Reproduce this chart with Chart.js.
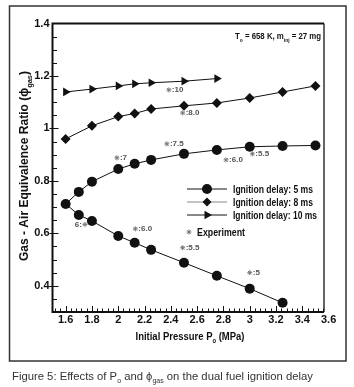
<!DOCTYPE html>
<html>
<head>
<meta charset="utf-8">
<script src="https://cdn.jsdelivr.net/npm/chart.js@4.4.0/dist/chart.umd.min.js"></script>
<style>
  body { margin: 0; background: #fff; }
</style>
</head>
<body>
<canvas id="chart" width="354" height="387"></canvas>
<script>
// ignition delay 5 ms: one curve, folds back at 1.6 MPa (upper branch then lower branch)
const press5 = [3.5, 3.25, 3.0, 2.75, 2.5, 2.25, 2.125, 2.0, 1.8, 1.7, 1.6, 1.7, 1.8, 2.0, 2.125, 2.25, 2.5, 2.75, 3.0, 3.25];
const phi5 = [0.935, 0.933, 0.93, 0.918, 0.903, 0.88, 0.865, 0.845, 0.797, 0.758, 0.712, 0.67, 0.647, 0.59, 0.564, 0.537, 0.488, 0.438, 0.389, 0.335];

// ignition delay 8 ms
const press8 = [1.6, 1.8, 2.0, 2.125, 2.25, 2.5, 2.75, 3.0, 3.25, 3.5];
const phi8 = [0.96, 1.01, 1.045, 1.057, 1.074, 1.086, 1.097, 1.116, 1.139, 1.162];

// ignition delay 10 ms
const press10 = [1.6, 1.8, 2.0, 2.125, 2.25, 2.5, 2.75];
const phi10 = [1.139, 1.15, 1.162, 1.17, 1.174, 1.18, 1.19];

// experiment points and their delay labels
const expPress = [2.385, 2.49, 2.37, 1.99, 2.82, 3.02, 1.747, 2.13, 2.49, 3.0];
const expPhi = [1.147, 1.059, 0.941, 0.888, 0.88, 0.903, 0.634, 0.617, 0.545, 0.45];
const expLabels = [':10', ':8.0', ':7.5', ':7', ':6.0', ':5.5', '6:', ':6.0', ':5.5', ':5'];

const xTicks = [1.6, 1.8, 2, 2.2, 2.4, 2.6, 2.8, 3, 3.2, 3.4, 3.6];
const yTicks = [0.4, 0.6, 0.8, 1, 1.2, 1.4];

const legendLabels = ['Ignition delay: 5 ms', 'Ignition delay: 8 ms', 'Ignition delay: 10 ms'];

const FONT = '"Liberation Sans", Arial, sans-serif';

function pts(xs, ys) {
  return xs.map((x, i) => ({ x: x, y: ys[i] }));
}

// draw text made of pieces [text, isSub], squeezed to a given width
function drawParts(ctx, parts, x, y, size, bold, width, align) {
  ctx.save();
  const f = s => (bold ? 'bold ' : '') + s + 'px ' + FONT;
  let w = 0;
  parts.forEach(p => {
    ctx.font = f(p[1] ? size * 0.62 : size);
    w += ctx.measureText(p[0]).width;
  });
  const sx = width ? width / w : 1;
  let x0 = x;
  if (align === 'right') x0 = x - w * sx;
  if (align === 'center') x0 = x - w * sx / 2;
  ctx.translate(x0, y);
  ctx.scale(sx, 1);
  ctx.textAlign = 'left';
  ctx.textBaseline = 'alphabetic';
  let cx = 0;
  parts.forEach(p => {
    ctx.font = f(p[1] ? size * 0.62 : size);
    ctx.fillText(p[0], cx, p[1] ? size * 0.3 : 0);
    cx += ctx.measureText(p[0]).width;
  });
  ctx.restore();
}

function star(ctx, x, y, r) {
  ctx.beginPath();
  for (let a = 0; a < 4; a++) {
    const t = a * Math.PI / 4;
    ctx.moveTo(x - r * Math.cos(t), y - r * Math.sin(t));
    ctx.lineTo(x + r * Math.cos(t), y + r * Math.sin(t));
  }
  ctx.stroke();
}

const decor = {
  id: 'decor',
  beforeDraw(chart) {
    const ctx = chart.ctx;
    ctx.save();
    ctx.fillStyle = '#fff';
    ctx.fillRect(0, 0, chart.width, chart.height);
    ctx.restore();
  },
  afterDatasetsDraw(chart) {
    const ctx = chart.ctx;
    const xs = chart.scales.x, ys = chart.scales.y;
    // experiment labels
    ctx.save();
    ctx.fillStyle = '#555';
    ctx.font = 'bold 8px ' + FONT;
    ctx.textBaseline = 'middle';
    expLabels.forEach((lab, i) => {
      const px = xs.getPixelForValue(expPress[i]);
      const py = ys.getPixelForValue(expPhi[i]);
      if (lab.endsWith(':')) {
        ctx.textAlign = 'right';
        ctx.fillText(lab, px - 3, py);
      } else {
        ctx.textAlign = 'left';
        ctx.fillText(lab, px + 3, py);
      }
    });
    ctx.restore();
  },
  afterDraw(chart) {
    const ctx = chart.ctx;
    const a = chart.chartArea;
    const xs = chart.scales.x, ys = chart.scales.y;
    ctx.save();
    ctx.strokeStyle = '#111';
    ctx.fillStyle = '#111';

    // tick marks, pointing inward
    ctx.lineWidth = 1;
    ctx.beginPath();
    for (let v = 1.52; v < 3.565; v += 0.04) {
      const px = Math.round(xs.getPixelForValue(v)) + 0.5;
      const major = xTicks.some(t => Math.abs(t - v) < 0.005);
      ctx.moveTo(px, a.bottom);
      ctx.lineTo(px, a.bottom - (major ? 6 : 3.5));
    }
    for (let v = 0.35; v < 1.4; v += 0.05) {
      const py = Math.round(ys.getPixelForValue(v)) + 0.5;
      const major = yTicks.some(t => Math.abs(t - v) < 0.005);
      ctx.moveTo(major ? a.left - 3 : a.left, py);
      ctx.lineTo(a.left + (major ? 6 : 4.5), py);
    }
    ctx.stroke();

    // plot box
    ctx.lineWidth = 2;
    ctx.beginPath();
    ctx.moveTo(a.right, a.top);
    ctx.lineTo(a.left, a.top);
    ctx.lineTo(a.left, a.bottom);
    ctx.lineTo(a.right, a.bottom);
    ctx.stroke();
    ctx.lineWidth = 1.3;
    ctx.beginPath();
    ctx.moveTo(a.right, a.top);
    ctx.lineTo(a.right, a.bottom);
    ctx.stroke();

    // outer frame
    ctx.strokeStyle = '#333';
    ctx.lineWidth = 1.5;
    ctx.strokeRect(9.5, 6, 336.5, 355);

    // axis titles
    ctx.fillStyle = '#111';
    drawParts(ctx, [['Initial Pressure P', 0], ['o', 1], [' (MPa)', 0]], 190, 340, 11.5, true, 109, 'center');
    ctx.save();
    ctx.translate(28, 166);
    ctx.rotate(-Math.PI / 2);
    drawParts(ctx, [['Gas - Air Equivalence Ratio (\u03d5', 0], ['gas', 1], [')', 0]], 0, 0, 12, true, 190, 'center');
    ctx.restore();

    // conditions note
    drawParts(ctx, [['T', 0], ['o', 1], [' = 658 K, m', 0], ['inj', 1], [' = 27 mg', 0]], 321, 39, 9.5, true, 86, 'right');

    // legend
    const lx0 = 187, lx1 = 227, mx = 207, tx = 233;
    const rows = [189, 202, 215];
    rows.forEach((ry, i) => {
      ctx.strokeStyle = i === 1 ? '#888' : '#111';
      ctx.lineWidth = 1;
      ctx.beginPath();
      ctx.moveTo(lx0, ry);
      ctx.lineTo(lx1, ry);
      ctx.stroke();
      ctx.fillStyle = '#111';
      ctx.beginPath();
      if (i === 0) {
        ctx.arc(mx, ry, 5, 0, Math.PI * 2);
      } else if (i === 1) {
        ctx.moveTo(mx, ry - 4.5);
        ctx.lineTo(mx + 4.5, ry);
        ctx.lineTo(mx, ry + 4.5);
        ctx.lineTo(mx - 4.5, ry);
        ctx.closePath();
      } else {
        ctx.moveTo(mx + 5, ry);
        ctx.lineTo(mx - 2.5, ry - 4.3);
        ctx.lineTo(mx - 2.5, ry + 4.3);
        ctx.closePath();
      }
      ctx.fill();
      drawParts(ctx, [[legendLabels[i], 0]], tx, ry + 4, 11, true, i === 2 ? 84 : 80, 'left');
    });
    ctx.strokeStyle = '#777';
    ctx.lineWidth = 1;
    star(ctx, 189, 232, 2.5);
    ctx.fillStyle = '#111';
    drawParts(ctx, [['Experiment', 0]], 197, 236, 11, true, 48, 'left');

    // caption
    ctx.fillStyle = '#333';
    drawParts(ctx, [['Figure 5: Effects of P', 0], ['o', 1], [' and ', 0], ['\u03d5', 0], ['gas', 1], [' on the dual fuel ignition delay', 0]], 12, 380, 11.5, false, 301, 'left');
    ctx.restore();
  }
};

const ctx = document.getElementById('chart').getContext('2d');
const chart = new Chart(ctx, {
  type: 'scatter',
  data: {
    datasets: [
      {
        label: legendLabels[0],
        data: pts(press5, phi5),
        showLine: true,
        borderColor: '#111',
        borderWidth: 1,
        pointStyle: 'circle',
        pointRadius: 5,
        pointBackgroundColor: '#111',
        pointBorderWidth: 0
      },
      {
        label: legendLabels[1],
        data: pts(press8, phi8),
        showLine: true,
        borderColor: '#111',
        borderWidth: 1,
        pointStyle: 'rectRot',
        pointRadius: 5,
        pointBackgroundColor: '#111',
        pointBorderWidth: 0
      },
      {
        label: legendLabels[2],
        data: pts(press10, phi10),
        showLine: true,
        borderColor: '#111',
        borderWidth: 1,
        pointStyle: 'triangle',
        pointRotation: 90,
        pointRadius: 5,
        pointBackgroundColor: '#111',
        pointBorderWidth: 0
      },
      {
        label: 'Experiment',
        data: pts(expPress, expPhi),
        showLine: false,
        pointStyle: 'star',
        pointRadius: 2.5,
        pointBorderColor: '#777',
        pointBorderWidth: 1
      }
    ]
  },
  options: {
    responsive: false,
    animation: false,
    devicePixelRatio: 1,
    layout: { padding: { top: 23.5, right: 30, left: 0, bottom: 0 } },
    plugins: {
      legend: { display: false },
      tooltip: { enabled: false }
    },
    scales: {
      x: {
        type: 'linear',
        min: 1.5,
        max: 3.565,
        grid: { display: false, drawTicks: false },
        border: { display: false },
        afterBuildTicks: s => { s.ticks = xTicks.map(v => ({ value: v })); },
        afterFit: s => { s.height = 75; },
        ticks: {
          autoSkip: false,
          maxRotation: 0,
          padding: 1,
          color: '#111',
          font: { family: FONT, size: 11, weight: 'bold' },
          callback: v => String(v)
        }
      },
      y: {
        type: 'linear',
        min: 0.3,
        max: 1.4,
        grid: { display: false, drawTicks: false },
        border: { display: false },
        afterBuildTicks: s => { s.ticks = yTicks.map(v => ({ value: v })); },
        afterFit: s => { s.width = 52.5; },
        ticks: {
          padding: 3,
          color: '#111',
          font: { family: FONT, size: 11, weight: 'bold' },
          callback: v => String(v)
        }
      }
    }
  },
  plugins: [decor]
});
</script>
</body>
</html>
